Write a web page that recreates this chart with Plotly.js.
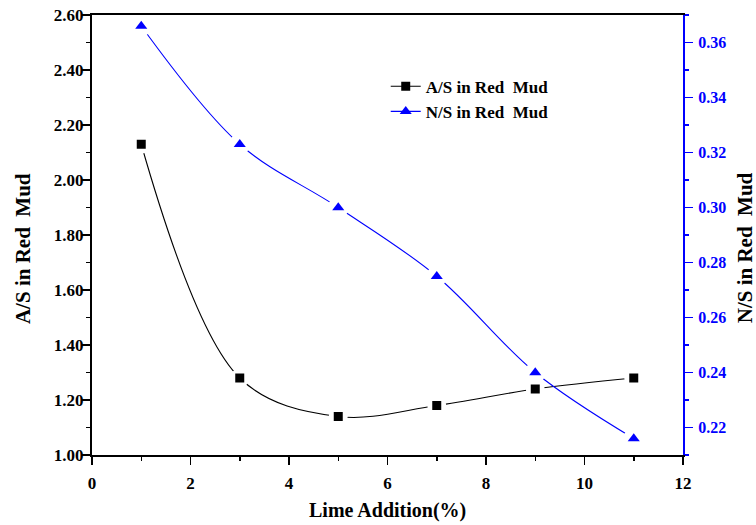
<!DOCTYPE html>
<html>
<head>
<meta charset="utf-8">
<script src="https://cdn.plot.ly/plotly-3.0.1.min.js"></script>
<style>
  html, body { margin: 0; padding: 0; background: #fff; }
  #chart { width: 756px; height: 525px; }
</style>
</head>
<body>
<div id="chart"></div>
<script>
// Lime addition (%) and the resulting ratios in the red mud
const limeAddition = [1, 3, 5, 7, 9, 11];
const asRatio = [2.13, 1.28, 1.14, 1.18, 1.24, 1.28];
const nsRatio = [0.366, 0.323, 0.300, 0.275, 0.240, 0.216];

const asName = 'A/S in Red\u00a0 Mud';
const nsName = 'N/S in Red\u00a0 Mud';
const xTitle = 'Lime Addition(%)';

const FONT = 'Liberation Serif';
const BLUE = '#0000ff';
const BLACK = '#000000';
const HALO = '#ffffff';

const asRange = [1, 2.6];
const nsRange = [0.21, 0.37];

// Each series: a smoothed line with markers (also used for the legend) on its
// own axis, then on a hidden overlay axis with the same range a white halo
// that opens a gap in the line around each point, and the markers on top.
function series(y, lineAxis, topAxis, name, color, symbol, size, haloSize) {
  return [
    {
      x: limeAddition, y: y, yaxis: lineAxis, name: name,
      mode: 'lines+markers',
      line: { color: color, width: 1.1, shape: 'spline', smoothing: 1 },
      marker: { symbol: symbol, size: size, color: color }
    },
    {
      x: limeAddition, y: y, yaxis: topAxis, showlegend: false,
      mode: 'markers', hoverinfo: 'skip',
      marker: { symbol: 'circle', size: haloSize, color: HALO }
    },
    {
      x: limeAddition, y: y, yaxis: topAxis, showlegend: false,
      mode: 'markers', hoverinfo: 'skip',
      marker: { symbol: symbol, size: size, color: color }
    }
  ];
}

const data = [
  ...series(asRatio, 'y', 'y3', asName, BLACK, 'square', 9, 19),
  ...series(nsRatio, 'y2', 'y4', nsName, BLUE, 'triangle-up', 10.5, 21)
];

const hiddenAxis = (range) => ({
  overlaying: 'y', range: range, visible: false,
  showgrid: false, zeroline: false, showline: false, showticklabels: false
});

const layout = {
  width: 756, height: 525,
  margin: { l: 92, r: 73, t: 15, b: 70 },
  paper_bgcolor: '#ffffff', plot_bgcolor: '#ffffff',
  showlegend: true,
  legend: {
    x: 0.497, y: 0.878, xanchor: 'left', yanchor: 'top',
    bgcolor: 'rgba(0,0,0,0)', borderwidth: 0,
    font: { family: FONT, size: 17, color: BLACK, weight: 'bold' },
    tracegroupgap: 0
  },
  xaxis: {
    range: [0, 12], tick0: 0, dtick: 2,
    showgrid: false, zeroline: false,
    showline: true, linecolor: BLACK, linewidth: 2, mirror: true,
    ticks: 'outside', ticklen: 8, tickwidth: 1.5, tickcolor: BLACK,
    minor: { dtick: 1, ticks: 'outside', ticklen: 4, tickwidth: 1.5, tickcolor: BLACK },
    ticklabelstandoff: 4,
    tickfont: { family: FONT, size: 17, color: BLACK, weight: 'bold' }
  },
  yaxis: {
    range: asRange, tick0: 1, dtick: 0.2, tickformat: '.2f',
    showgrid: false, zeroline: false,
    showline: true, linecolor: BLACK, linewidth: 2,
    ticks: 'outside', ticklen: 8, tickwidth: 1.5, tickcolor: BLACK,
    minor: { dtick: 0.1, ticks: 'outside', ticklen: 4, tickwidth: 1.5, tickcolor: BLACK },
    ticklabelstandoff: -5,
    tickfont: { family: FONT, size: 17, color: BLACK, weight: 'bold' }
  },
  yaxis2: {
    overlaying: 'y', side: 'right',
    range: nsRange, tick0: 0.22, dtick: 0.02, tickformat: '.2f',
    showgrid: false, zeroline: false,
    showline: true, linecolor: BLUE, linewidth: 2,
    ticks: 'outside', ticklen: 8, tickwidth: 1.5, tickcolor: BLUE,
    minor: { dtick: 0.01, ticks: 'outside', ticklen: 4, tickwidth: 1.5, tickcolor: BLUE },
    ticklabelstandoff: 2,
    tickfont: { family: FONT, size: 16, color: BLUE, weight: 'bold' }
  },
  yaxis3: hiddenAxis(asRange),
  yaxis4: hiddenAxis(nsRange),
  annotations: [
    {
      text: xTitle, xref: 'paper', yref: 'paper', x: 0.5, y: -0.125,
      xanchor: 'center', yanchor: 'middle', showarrow: false,
      font: { family: FONT, size: 20, color: BLACK, weight: 'bold' }
    },
    {
      text: asName, xref: 'paper', yref: 'paper', x: -0.117, y: 0.47,
      xanchor: 'center', yanchor: 'middle', showarrow: false, textangle: -90,
      font: { family: FONT, size: 21, color: BLACK, weight: 'bold' }
    },
    {
      text: nsName, xref: 'paper', yref: 'paper', x: 1.105, y: 0.47,
      xanchor: 'center', yanchor: 'middle', showarrow: false, textangle: -90,
      font: { family: FONT, size: 21, color: BLACK, weight: 'bold' }
    }
  ]
};

Plotly.newPlot('chart', data, layout, { displayModeBar: false, staticPlot: true });
</script>
</body>
</html>
